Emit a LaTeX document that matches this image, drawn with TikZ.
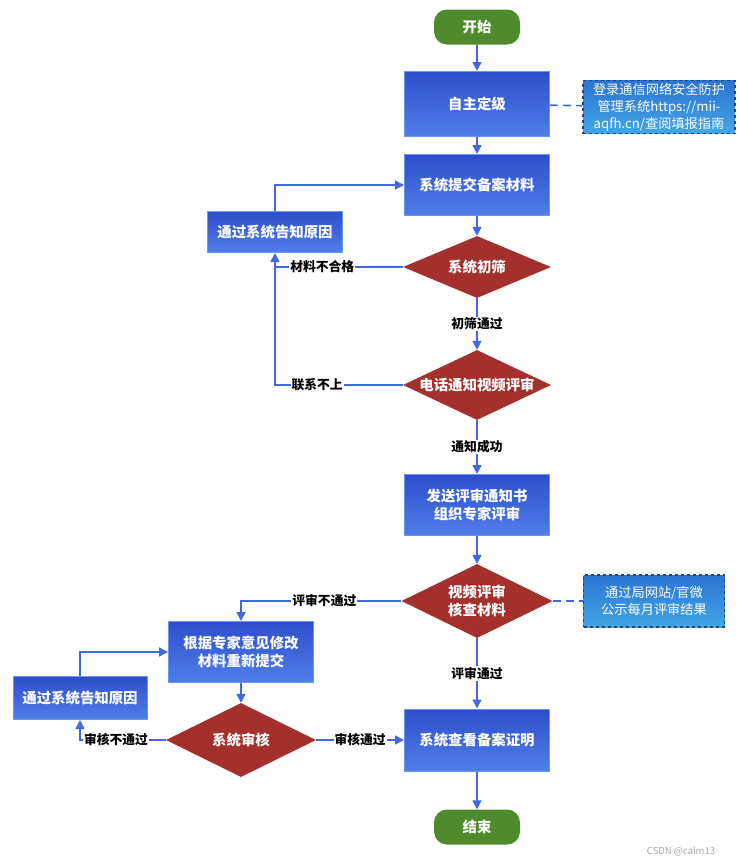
\documentclass[tikz,border=0pt]{standalone}
\usepackage{fontspec}
\setmainfont{Noto Sans CJK SC}
\usetikzlibrary{shapes.geometric,arrows.meta}
\definecolor{boxtop}{HTML}{2F4DCB}
\definecolor{boxbot}{HTML}{4F7FE8}
\definecolor{boxedge}{HTML}{6A95F0}
\definecolor{decred}{HTML}{A3302D}
\definecolor{termgreen}{HTML}{4F8A2C}
\definecolor{notetop}{HTML}{2B74D2}
\definecolor{notebot}{HTML}{42A6E6}
\definecolor{noteedge}{HTML}{24437F}
\definecolor{linkblue}{HTML}{4169E1}
\tikzset{
  proc/.style={rectangle, draw=boxedge, line width=1pt, top color=boxtop, bottom color=boxbot,
    text=white, font=\fontsize{14.4}{18}\selectfont\bfseries, align=center,
    minimum width=145pt, minimum height=61pt, inner sep=2pt},
  dec/.style={diamond, aspect=2.2, fill=decred, text=white, font=\fontsize{14.4}{18}\selectfont\bfseries,
    align=center, minimum width=148pt, minimum height=62pt, inner sep=0pt},
  term/.style={rectangle, rounded corners=13pt, fill=termgreen, text=white,
    font=\fontsize{14.4}{18}\selectfont\bfseries, minimum width=86pt, minimum height=35pt},
  note/.style={rectangle, draw=noteedge, dashed, line width=1.3pt, top color=notetop, bottom color=notebot,
    text=white, font=\fontsize{13.2}{17}\selectfont, align=center, inner sep=2pt},
  link/.style={draw=linkblue, line width=1.6pt, -{Triangle[length=9pt,width=9pt]}},
  plainlink/.style={draw=linkblue, line width=1.6pt},
  notelink/.style={draw=linkblue, line width=1.6pt, dash pattern=on 8pt off 5pt},
  lbl/.style={fill=white, inner sep=1pt, text=black, font=\fontsize{12.8}{15}\selectfont\bfseries}
}
\begin{document}
\begin{tikzpicture}[x=1pt, y=-1pt]
            \useasboundingbox (0,0) rectangle (739,865);

            % Main column
            \node [term] (start) at (477,27) {开始};
            \node [proc, minimum height=65pt] (level) at (477,104) {自主定级};
            \node [proc] (submit) at (477,185) {系统提交备案材料};
            \node [dec] (screen) at (477,267) {系统初筛};
            \node [dec, minimum height=70pt] (phone) at (477,385) {电话通知视频评审};
            \node [proc] (notify) at (477,505) {发送评审通知书\\组织专家评审};
            \node [dec, minimum width=151pt, minimum height=74pt] (review) at (477,601) {视频评审\\核查材料};
            \node [proc, minimum height=62pt] (cert) at (477,740) {系统查看备案证明};
            \node [term] (end) at (477,827) {结束};

            % Side boxes
            \node [proc, minimum width=135pt, minimum height=41pt] (back1) at (275,232) {通过系统告知原因};
            \node [proc] (revise) at (241,652) {根据专家意见修改\\材料重新提交};
            \node [dec, minimum width=150pt, minimum height=74pt] (check) at (241,740) {系统审核};
            \node [proc, minimum width=134pt, minimum height=43pt] (back2) at (80,698) {通过系统告知原因};

            % Notes
            \node [note, minimum width=152pt, minimum height=53pt] (note1) at (659,107) {登录通信网络安全防护\\管理系统https://mii-\\aqfh.cn/查阅填报指南};
            \node [note, minimum width=141pt, minimum height=52pt] (note2) at (654,601) {通过局网站/官微\\公示每月评审结果};

            % Drawing main flow
            \draw [link] (start) -- (level);
            \draw [link] (level) -- (submit);
            \draw [link] (submit) -- (screen);
            \draw [link] (screen) -- node [lbl] {初筛通过} (phone);
            \draw [link] (phone) -- node [lbl] {通知成功} (notify);
            \draw [link] (notify) -- (review);
            \draw [link] (review) -- node [lbl] {评审通过} (cert);
            \draw [link] (cert) -- (end);

            % Drawing dashed notes
            \draw [notelink] (level) -- (note1);
            \draw [notelink] (review) -- (note2);

            % Drawing loop back to submit
            \draw [link] (screen.west) -- node [lbl, pos=0.63] {材料不合格} (back1 |- screen.west) -- (back1.south);
            \draw [plainlink] (phone.west) -- node [lbl, pos=0.67] {联系不上} (back1 |- phone.west) -- (back1 |- screen.west);
            \draw [link] (back1.north) |- (submit.west);

            % Drawing loop back to revise
            \draw [link] (review.west) -| node [lbl, pos=0.24] {评审不通过} (revise.north);
            \draw [link] (revise) -- (check);
            \draw [link] (check.west) -| node [lbl, pos=0.29] {审核不通过} (back2.south);
            \draw [link] (back2.north) |- (revise.west);
            \draw [link] (check.east) -- node [lbl] {审核通过} (cert.west);

            % Watermark
            \node [text=black!35, font=\fontsize{9.5}{11}\selectfont] (mark) at (681,852) {CSDN @calm13};
\end{tikzpicture}
\end{document}
